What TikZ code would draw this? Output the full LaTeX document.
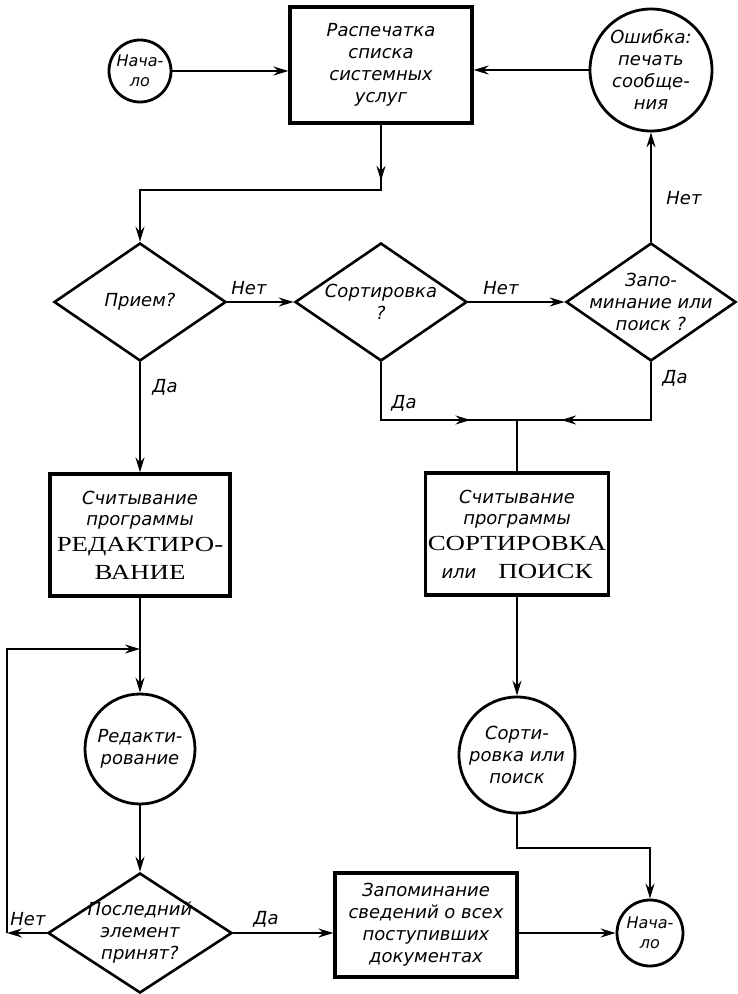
\documentclass[tikz,border=0pt]{standalone}
\usepackage{fontspec}
\setmainfont{Liberation Serif}
\newfontfamily\gost{DejaVu Sans}
\newfontfamily\capsfont[FakeStretch=1.25]{Liberation Serif}
\usetikzlibrary{shapes.geometric, arrows.meta, decorations.markings}

\begin{document}
\begin{tikzpicture}[x=1pt, y=-1pt, font=\gost\itshape\fontsize{18}{22}\selectfont,
  box/.style={draw, line width=3.2pt, align=center, inner sep=0pt},
  term/.style={circle, draw, line width=2.8pt, align=center, inner sep=-6pt},
  small/.style={font=\gost\itshape\fontsize{16}{20}\selectfont},
  test/.style={diamond, draw, line width=2.6pt, align=center, inner sep=-18pt,
    minimum width=172pt, minimum height=118pt},
  arr/.style={line width=2pt, -{Stealth[length=15pt, width=9pt, inset=5pt]}},
  con/.style={line width=2pt},
  midtip/.style={postaction={decorate, decoration={markings,
    mark=at position #1 with {\arrow{Stealth[length=15pt, width=9pt, inset=5pt]}}}}},
  lbl/.style={inner sep=1pt}]
\useasboundingbox (0,0) rectangle (737,994);
% top row
\node[term, small, minimum size=62pt] (start) at (140,71) {Нача-\\ло};
\node[box, minimum width=182pt, minimum height=116pt] (print) at (381,65) {Распечатка\\списка\\системных\\услуг};
\node[term, minimum size=122pt] (err) at (651,70) {Ошибка:\\печать\\сообще-\\ния};
% questions
\node[test] (recv) at (140,302) {Прием?};
\node[test] (sort) at (381,302) {Сортировка\\?};
\node[test, minimum width=170pt] (mem) at (651,302) {Запо-\\минание или\\поиск ?};
% programs
\node[box, minimum width=180pt, minimum height=122pt] (editbox) at (140,535)
  {Считывание\\[-1pt]программы\\[4pt]{\capsfont\upshape\fontsize{21.5}{22}\selectfont РЕДАКТИРО-}\\[6pt]{\capsfont\upshape\fontsize{21.5}{22}\selectfont ВАНИЕ}};
\node[box, minimum width=183pt, minimum height=122pt] (sortbox) at (517,534)
  {Считывание\\[-1pt]программы\\[4pt]{\capsfont\upshape\fontsize{21.5}{22}\selectfont СОРТИРОВКА}\\[6pt]или\hspace{22pt}{\capsfont\upshape\fontsize{21.5}{22}\selectfont ПОИСК}};
\node[term, minimum size=110pt] (edit) at (140,749) {Редакти-\\рование};
\node[term, minimum size=116pt] (sortc) at (517,755) {Сорти-\\ровка или\\поиск};
% bottom row
\node[test, minimum width=184pt, minimum height=120pt] (last) at (140,933) {Последний\\элемент\\принят?};
\node[box, minimum width=182pt, minimum height=104pt] (store) at (426,925) {Запоминание\\сведений о всех\\поступивших\\документах};
\node[term, small, minimum size=66pt] (end) at (650,933) {Нача-\\ло};
\coordinate (junc) at (517,420);
\coordinate (lcorner) at (7,933);
\coordinate (rejoin) at (140,649);
% connectors
\draw[arr] (start.east) -- (start.east -| print.west);
\draw[arr] (err.west) -- (err.west -| print.east);
\draw[arr, midtip=0.157] (print.south) -- ++(0,65) -| (recv.north);
\draw[arr] (recv.east) -- (sort.west);
\draw[arr] (sort.east) -- (mem.west);
\draw[arr] (mem.north) -- (err.south);
\draw[con, midtip=0.76] (sort.south) |- (junc);
\draw[con, midtip=0.77] (mem.south) |- (junc);
\draw[con] (junc) -- (sortbox.north);
\draw[arr] (recv.south) -- (editbox.north);
\draw[arr] (editbox.south) -- (edit.north);
\draw[arr] (sortbox.south) -- (sortc.north);
\draw[arr] (edit.south) -- (last.north);
\draw[arr] (last.west) -- (lcorner);
\draw[arr] (lcorner) |- (rejoin);
\draw[arr] (last.east) -- (last.east -| store.west);
\draw[arr] (end.west -| store.east) -- (end.west);
\draw[arr] (sortc.south) -- ++(0,34) -| (end.north);
% labels
\node[lbl] (no1) at (249,288) {Нет};
\node[lbl] (no2) at (501,288) {Нет};
\node[lbl] (no3) at (684,198) {Нет};
\node[lbl] (yes1) at (165,387) {Да};
\node[lbl] (yes2) at (404,403) {Да};
\node[lbl] (yes3) at (675,378) {Да};
\node[lbl] (no4) at (28,919) {Нет};
\node[lbl] (yes4) at (266,919) {Да};
\end{tikzpicture}
\end{document}
